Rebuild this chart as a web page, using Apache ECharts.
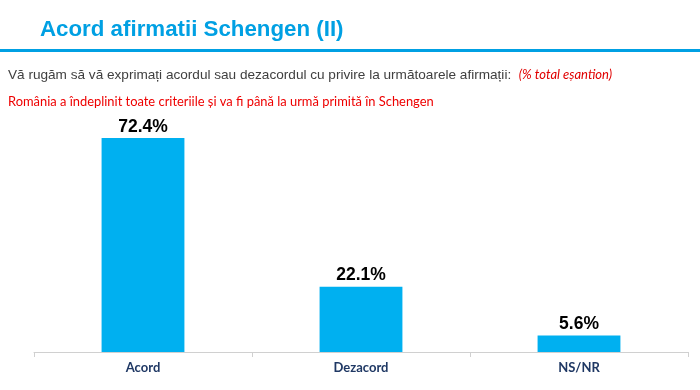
<!DOCTYPE html>
<html><head><meta charset="utf-8">
<script src="https://cdn.jsdelivr.net/npm/echarts@6/dist/echarts.min.js"></script>
<style>html,body{margin:0;padding:0;background:#fff}#c{width:700px;height:390px}</style>
</head><body><div id="c"></div>
<script>
const categories = ['Acord', 'Dezacord', 'NS/NR'];
const values = [72.4, 22.1, 5.6];

const chart = echarts.init(document.getElementById('c'));
chart.setOption({
  animation: false,
  title: [
    {text: 'Acord afirmatii Schengen (II)', left: 35, top: 14,
     textStyle: {color: '#00a0e3', fontSize: 22.3, fontWeight: 'bold', fontFamily: 'Liberation Sans'}},
    {text: 'Vă rugăm să vă exprimați acordul sau dezacordul cu privire la următoarele afirmații:  {r|(% total eșantion)}',
     left: 3, top: 63,
     textStyle: {color: '#404040', fontSize: 13.6, fontWeight: 'normal', fontFamily: 'Liberation Sans',
       rich: {r: {color: '#e00000', fontStyle: 'italic', fontSize: 13, fontFamily: 'Lato'}}}},
    {text: 'România a îndeplinit toate criteriile și va fi până la urmă primită în Schengen',
     left: 3, top: 90,
     textStyle: {color: '#ee0000', fontSize: 12.9, fontWeight: 'normal', fontFamily: 'Lato'}}
  ],
  graphic: [
    {type: 'rect', shape: {x: 0, y: 49, width: 700, height: 3}, style: {fill: '#00a0e3'}}
  ],
  grid: {left: 34, right: 12, top: 115.5, bottom: 38, containLabel: false},
  xAxis: {
    type: 'category', data: categories,
    axisLine: {lineStyle: {color: '#d0d0d0', width: 1}},
    axisTick: {show: true, length: 5, lineStyle: {color: '#d0d0d0'}},
    axisLabel: {color: '#1f3864', fontWeight: 'bold', fontSize: 13, margin: 9, fontFamily: 'Lato'}
  },
  yAxis: {type: 'value', min: 0, max: 80, show: false, splitLine: {show: false}},
  series: [{
    type: 'bar', data: values, barWidth: '38%',
    itemStyle: {color: '#00b0f0'},
    label: {show: true, position: 'top', distance: 2, formatter: p => p.value.toFixed(1) + '%',
      color: '#000', fontWeight: 'bold', fontSize: 17.5, fontFamily: 'Liberation Sans'}
  }]
});
</script></body></html>
